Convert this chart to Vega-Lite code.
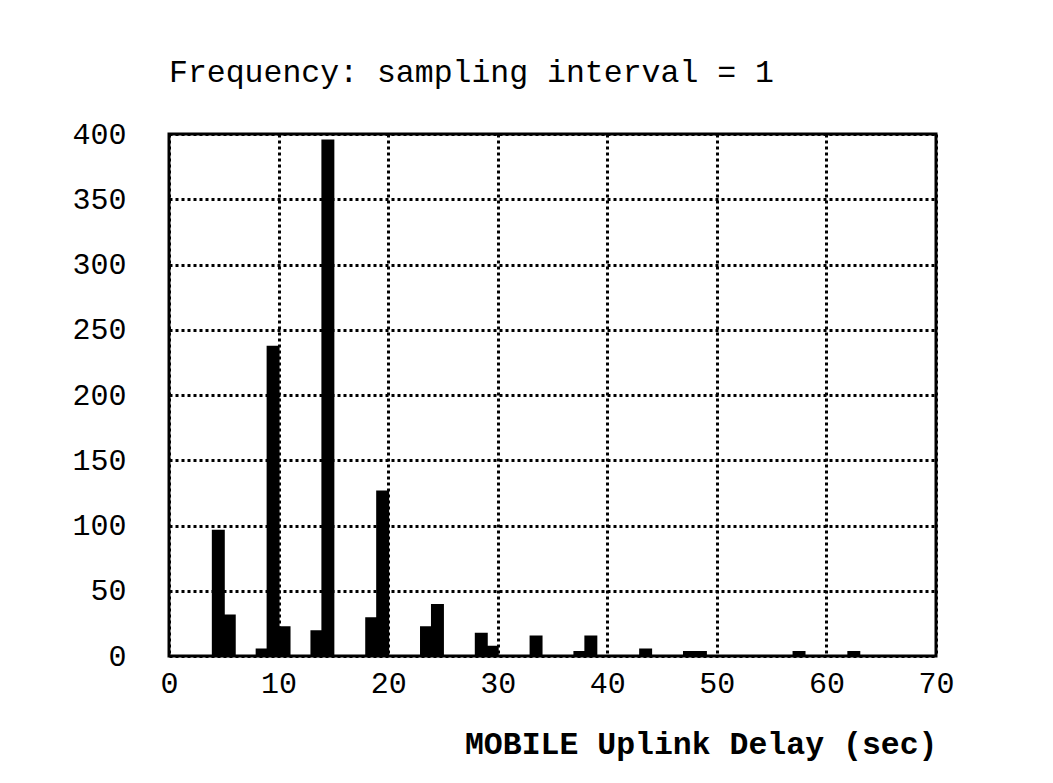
{
  "$schema": "https://vega.github.io/schema/vega-lite/v6.json",
  "autosize": {"type": "none"},
  "width": 767,
  "height": 522,
  "padding": {"left": 169, "top": 134, "right": 117, "bottom": 127},
  "background": "white",
  "title": {
    "text": "Frequency: sampling interval = 1",
    "anchor": "start",
    "frame": "group",
    "font": "Liberation Mono",
    "fontSize": 31.5,
    "fontWeight": "normal",
    "color": "black",
    "baseline": "alphabetic",
    "offset": 6
  },
  "data": {
    "values": [
      {"start": 4, "end": 5, "count": 96},
      {"start": 5, "end": 6, "count": 31},
      {"start": 8, "end": 9, "count": 5},
      {"start": 9, "end": 10, "count": 237},
      {"start": 10, "end": 11, "count": 22},
      {"start": 13, "end": 14, "count": 19},
      {"start": 14, "end": 15, "count": 395},
      {"start": 18, "end": 19, "count": 29},
      {"start": 19, "end": 20, "count": 126},
      {"start": 23, "end": 24, "count": 22},
      {"start": 24, "end": 25, "count": 39},
      {"start": 28, "end": 29, "count": 17},
      {"start": 29, "end": 30, "count": 7},
      {"start": 33, "end": 34, "count": 15},
      {"start": 37, "end": 38, "count": 3},
      {"start": 38, "end": 39, "count": 15},
      {"start": 43, "end": 44, "count": 5},
      {"start": 47, "end": 48, "count": 3},
      {"start": 48, "end": 49, "count": 3},
      {"start": 57, "end": 58, "count": 3},
      {"start": 62, "end": 63, "count": 3}
    ]
  },
  "mark": {"type": "rect", "color": "black", "stroke": "black", "strokeWidth": 2},
  "encoding": {
    "x": {
      "field": "start",
      "type": "quantitative",
      "scale": {"domain": [0, 70], "nice": false, "zero": false},
      "axis": {
        "values": [0, 10, 20, 30, 40, 50, 60, 70],
        "title": "MOBILE Uplink Delay (sec)",
        "titleFont": "Liberation Mono",
        "titleFontSize": 31.5,
        "titleFontWeight": "bold",
        "titleColor": "black",
        "titleAnchor": "end",
        "titleAlign": "right",
        "titleBaseline": "alphabetic",
        "titleX": 768,
        "titleY": 97,
        "labelFont": "Liberation Mono",
        "labelFontSize": 30,
        "labelColor": "black",
        "labelPadding": 12,
        "labelFlush": false,
        "labelOverlap": false,
        "ticks": false,
        "domain": false,
        "grid": true,
        "gridColor": "black",
        "gridWidth": 3,
        "gridDash": [3, 3],
        "gridOpacity": 1
      }
    },
    "x2": {"field": "end"},
    "y": {
      "field": "count",
      "type": "quantitative",
      "scale": {"domain": [0, 400], "nice": false},
      "axis": {
        "values": [0, 50, 100, 150, 200, 250, 300, 350, 400],
        "title": null,
        "labelFont": "Liberation Mono",
        "labelFontSize": 30,
        "labelColor": "black",
        "labelPadding": 43,
        "labelFlush": false,
        "labelOverlap": false,
        "ticks": false,
        "domain": false,
        "grid": true,
        "gridColor": "black",
        "gridWidth": 3,
        "gridDash": [3, 3],
        "gridOpacity": 1
      }
    },
    "y2": {"datum": 0}
  },
  "config": {
    "view": {"stroke": "black", "strokeWidth": 3}
  }
}
